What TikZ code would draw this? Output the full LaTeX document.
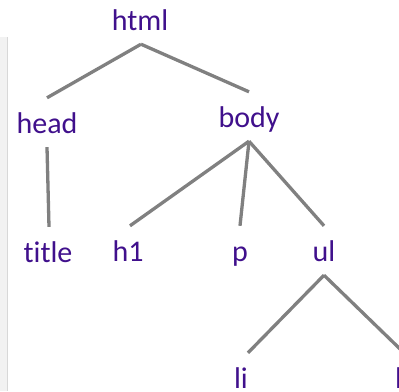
\documentclass[tikz,border=0pt]{standalone}
\usepackage{fontspec}
\setmainfont{Carlito}[Ligatures=NoCommon]
\definecolor{tagpurple}{RGB}{64,16,140}
\definecolor{edgegray}{RGB}{128,128,128}
\definecolor{panelfill}{RGB}{242,242,242}
\definecolor{panelline}{RGB}{216,216,216}
\begin{document}
\begin{tikzpicture}[x=1pt,y=-1pt,
  tag/.style={anchor=base, inner xsep=0pt, inner ysep=0pt, text height=35pt, text depth=14pt,
    text=tagpurple, font=\fontsize{30}{32}\selectfont},
  edge/.style={draw=edgegray, line width=3.3pt}]
\useasboundingbox (0,0) rectangle (399,391);
% left panel strip
\fill[panelfill] (0,37) rectangle (7,391);
\draw[panelline, line width=1pt] (7,37) -- (7,391);
% nodes
\node[tag] (html) at (140,30) {html};
\node[tag] (head) at (47,133) {head};
\node[tag] (body) at (249,127) {body};
\node[tag] (title) at (48,262) {title};
\node[tag] (h1) at (128,261) {h1};
\node[tag] (p) at (240,261) {p};
\node[tag] (ul) at (324,261) {ul};
\node[tag] (li) at (241,388) {li};
\node[tag] (li2) at (402,388) {li};
% connectors
\draw[edge] ([xshift=1pt]html.south) -- (head.north);
\draw[edge] ([xshift=1pt]html.south) -- (body.north);
\draw[edge] (head.south) -- ([xshift=1pt]title.north);
\draw[edge] (body.south) -- ([xshift=2pt]h1.north);
\draw[edge] (body.south) -- (p.north);
\draw[edge] (body.south) -- (ul.north);
\draw[edge] (ul.south) -- ([xshift=7pt]li.north);
\draw[edge] (ul.south) -- ([xshift=2pt]li2.north);
\end{tikzpicture}
\end{document}
